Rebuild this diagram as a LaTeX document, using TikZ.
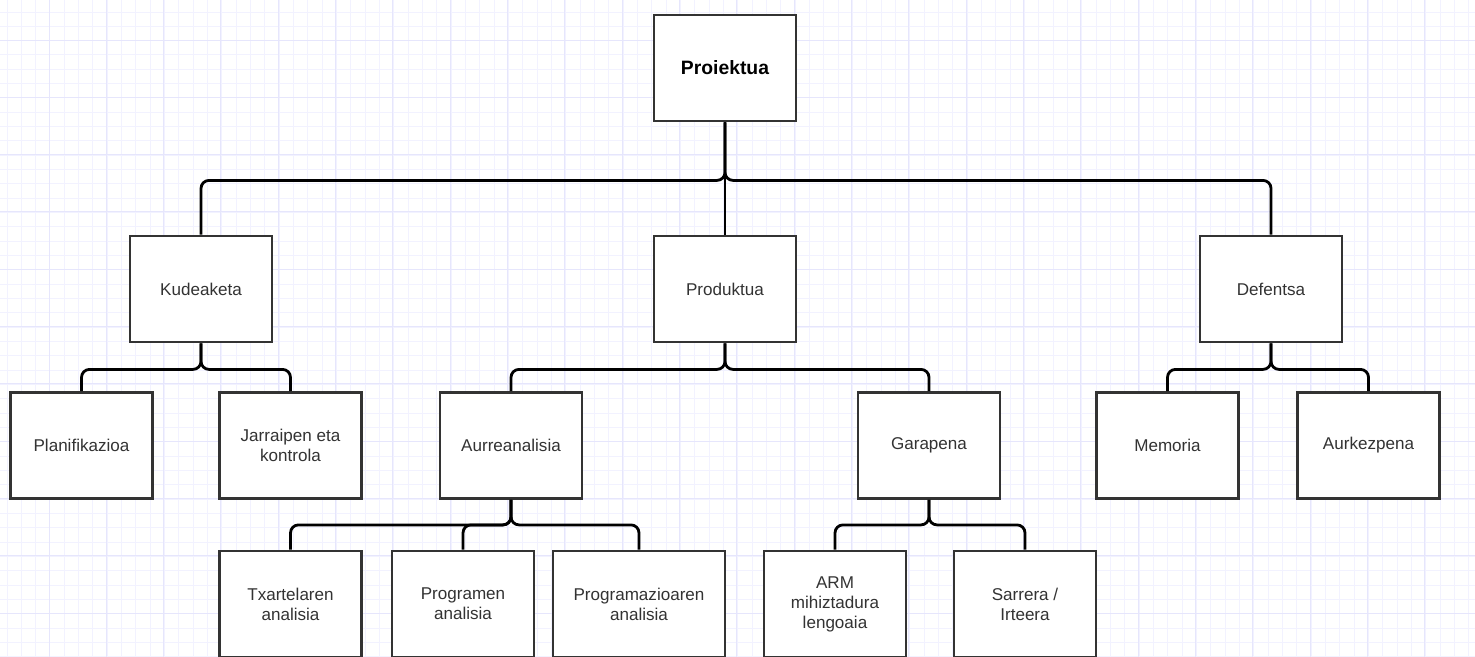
\documentclass[tikz,border=0pt]{standalone}
\usepackage{fontspec}
\setmainfont{Liberation Sans}
\usepackage{xcolor}
\definecolor{gridminor}{HTML}{F2F2FF}
\definecolor{gridmajor}{HTML}{E6E6FC}
\definecolor{boxline}{HTML}{333333}
\definecolor{boxtext}{HTML}{333333}
\tikzstyle{box} = [draw=boxline, line width=2.1pt, fill=white, minimum width=106.5pt, minimum height=79.5pt, align=center, text=boxtext, font=\fontsize{12.8}{15}\selectfont]
\tikzstyle{link} = [line width=2.1pt, rounded corners=6pt]

\begin{document}
\begin{tikzpicture}[x=0.75pt, y=-0.75pt]
\clip (0,0) rectangle (1475,657);
\fill[white] (0,0) rectangle (1475,657);
% grid
\foreach \k in {0,...,103} {
  \draw[gridminor, line width=0.75pt] (7+14.33*\k,0) -- (7+14.33*\k,657);
}
\foreach \k in {0,...,46} {
  \draw[gridminor, line width=0.75pt] (0,12+14.33*\k) -- (1475,12+14.33*\k);
}
\foreach \k in {0,...,25} {
  \draw[gridmajor, line width=0.75pt] (49+57.32*\k,0) -- (49+57.32*\k,657);
}
\foreach \k in {0,...,11} {
  \draw[gridmajor, line width=0.75pt] (0,40+57.32*\k) -- (1475,40+57.32*\k);
}

\node[box, text=black, font=\fontsize{14.5}{17}\selectfont\bfseries] (proiektua) at (725,68) {Proiektua};

\node[box] (kudeaketa) at (201,289) {Kudeaketa};
\node[box] (produktua) at (725,289) {Produktua};
\node[box] (defentsa) at (1271,289) {Defentsa};

\node[box] (planifikazioa) at (81.5,445.5) {Planifikazioa};
\node[box] (jarraipena) at (290.5,445.5) {Jarraipen eta\\kontrola};
\node[box] (aurreanalisia) at (511,445.5) {Aurreanalisia};
\node[box] (garapena) at (929,445.5) {Garapena};
\node[box] (memoria) at (1167.5,445.5) {Memoria};
\node[box] (aurkezpena) at (1368.5,445.5) {Aurkezpena};

\node[box] (txartela) at (290.5,604) {Txartelaren\\analisia};
\node[box] (programak) at (463,604) {Programen\\analisia};
\node[box, minimum width=129pt] (programazioa) at (639,604) {Programazioaren\\analisia};
\node[box] (arm) at (835,604) {ARM\\mihiztadura\\lengoaia};
\node[box] (sarrera) at (1025,604) {Sarrera /\\Irteera};

\draw[link] (proiektua.south) -- ++(0,58) -| (kudeaketa.north);
\draw[link] (proiektua.south) -- (produktua.north);
\draw[link] (proiektua.south) -- ++(0,58) -| (defentsa.north);

\draw[link] (kudeaketa.south) -- ++(0,26) -| (planifikazioa.north);
\draw[link] (kudeaketa.south) -- ++(0,26) -| (jarraipena.north);

\draw[link] (produktua.south) -- ++(0,26) -| (aurreanalisia.north);
\draw[link] (produktua.south) -- ++(0,26) -| (garapena.north);

\draw[link] (defentsa.south) -- ++(0,26) -| (memoria.north);
\draw[link] (defentsa.south) -- ++(0,26) -| (aurkezpena.north);

\draw[link] (aurreanalisia.south) -- ++(0,25) -| (txartela.north);
\draw[link] (aurreanalisia.south) -- ++(0,25) -| (programak.north);
\draw[link] (aurreanalisia.south) -- ++(0,25) -| (programazioa.north);

\draw[link] (garapena.south) -- ++(0,25) -| (arm.north);
\draw[link] (garapena.south) -- ++(0,25) -| (sarrera.north);
\end{tikzpicture}
\end{document}
